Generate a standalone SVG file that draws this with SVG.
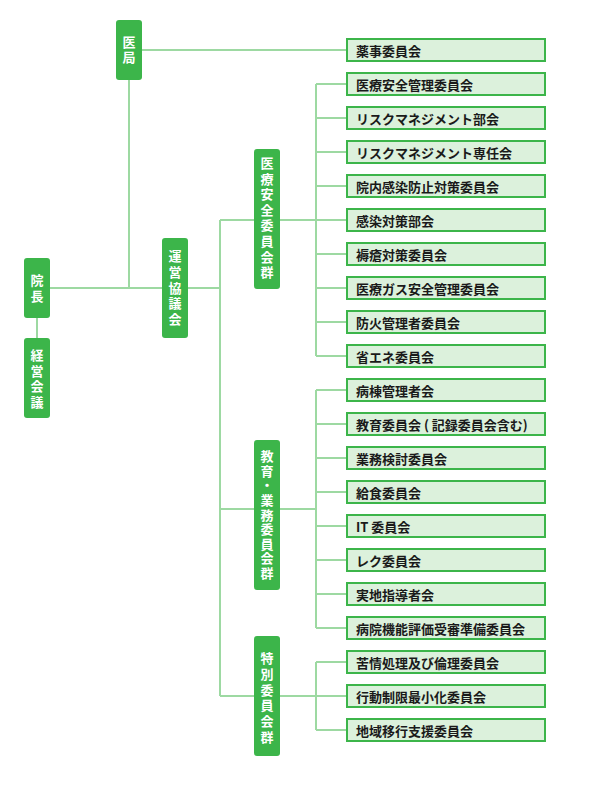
<svg xmlns="http://www.w3.org/2000/svg" width="600" height="800" viewBox="0 0 600 800">
<style>
.n rect{fill:#3cb54a}
.n text{fill:#fff;font-family:"Noto Sans CJK JP","Noto Sans",sans-serif;font-size:13px;font-weight:bold;text-anchor:middle;writing-mode:vertical-rl;text-orientation:upright}
.b rect{fill:#dcf1dc;stroke:#3cb54a;stroke-width:2}
.b text{fill:#1a1a1a;font-family:"Noto Sans CJK JP","Noto Sans",sans-serif;font-size:13px;font-weight:bold;dominant-baseline:central}
#connectors path{fill:none;stroke:#9dd9a2;stroke-width:2}
</style>
<rect width="600" height="800" fill="#fff"/>
<g id="connectors">
<path d="M142 50H346"/>
<path d="M129 80V288"/>
<path d="M37 318V338"/>
<path d="M50 288H162"/>
<path d="M188 288H220"/>
<path d="M220 220V696"/>
<path d="M220 220H254M220 509H254M220 696H254"/>
<path d="M280 220H316M280 509H316M280 696H316"/>
<path d="M316 84V356M316 390V628M316 662V730"/>
<path d="M316 84H346M316 118H346M316 152H346M316 186H346M316 220H346M316 254H346M316 288H346M316 322H346M316 356H346"/>
<path d="M316 390H346M316 424H346M316 458H346M316 492H346M316 526H346M316 560H346M316 594H346M316 628H346"/>
<path d="M316 662H346M316 696H346M316 730H346"/>
</g>
<g id="ikyoku" class="n"><rect x="116" y="20" width="26" height="60" rx="3"/><text x="129" y="50.5" style="letter-spacing:2px">医局</text></g>
<g id="incho" class="n"><rect x="24" y="258" width="26" height="60" rx="3"/><text x="37" y="289.5" style="letter-spacing:3px">院長</text></g>
<g id="keiei" class="n"><rect x="24" y="338" width="26" height="80" rx="3"/><text x="37" y="380" style="letter-spacing:2.7px">経営会議</text></g>
<g id="unei" class="n"><rect x="162" y="238" width="26" height="100" rx="3"/><text x="175" y="289" style="letter-spacing:2.8px">運営協議会</text></g>
<g id="iryoanzen" class="n"><rect x="254" y="149" width="26" height="140" rx="3"/><text x="267" y="219" style="letter-spacing:2.6px">医療安全委員会群</text></g>
<g id="kyoiku" class="n"><rect x="254" y="440" width="26" height="150" rx="3"/><text x="267" y="515.5" style="letter-spacing:1.6px">教育・業務委員会群</text></g>
<g id="tokubetsu" class="n"><rect x="254" y="636" width="26" height="120" rx="3"/><text x="267" y="699" style="letter-spacing:2.8px">特別委員会群</text></g>
<g id="b01" class="b"><rect x="347" y="39" width="198" height="22"/><text x="356" y="50">薬事委員会</text></g>
<g id="b02" class="b"><rect x="347" y="73" width="198" height="22"/><text x="356" y="84">医療安全管理委員会</text></g>
<g id="b03" class="b"><rect x="347" y="107" width="198" height="22"/><text x="356" y="118">リスクマネジメント部会</text></g>
<g id="b04" class="b"><rect x="347" y="141" width="198" height="22"/><text x="356" y="152">リスクマネジメント専任会</text></g>
<g id="b05" class="b"><rect x="347" y="175" width="198" height="22"/><text x="356" y="186">院内感染防止対策委員会</text></g>
<g id="b06" class="b"><rect x="347" y="209" width="198" height="22"/><text x="356" y="220">感染対策部会</text></g>
<g id="b07" class="b"><rect x="347" y="243" width="198" height="22"/><text x="356" y="254">褥瘡対策委員会</text></g>
<g id="b08" class="b"><rect x="347" y="277" width="198" height="22"/><text x="356" y="288">医療ガス安全管理委員会</text></g>
<g id="b09" class="b"><rect x="347" y="311" width="198" height="22"/><text x="356" y="322">防火管理者委員会</text></g>
<g id="b10" class="b"><rect x="347" y="345" width="198" height="22"/><text x="356" y="356">省エネ委員会</text></g>
<g id="b11" class="b"><rect x="347" y="379" width="198" height="22"/><text x="356" y="390">病棟管理者会</text></g>
<g id="b12" class="b"><rect x="347" y="413" width="198" height="22"/><text x="356" y="424">教育委員会 ( 記録委員会含む)</text></g>
<g id="b13" class="b"><rect x="347" y="447" width="198" height="22"/><text x="356" y="458">業務検討委員会</text></g>
<g id="b14" class="b"><rect x="347" y="481" width="198" height="22"/><text x="356" y="492">給食委員会</text></g>
<g id="b15" class="b"><rect x="347" y="515" width="198" height="22"/><text x="356" y="526">IT 委員会</text></g>
<g id="b16" class="b"><rect x="347" y="549" width="198" height="22"/><text x="356" y="560">レク委員会</text></g>
<g id="b17" class="b"><rect x="347" y="583" width="198" height="22"/><text x="356" y="594">実地指導者会</text></g>
<g id="b18" class="b"><rect x="347" y="617" width="198" height="22"/><text x="356" y="628">病院機能評価受審準備委員会</text></g>
<g id="b19" class="b"><rect x="347" y="651" width="198" height="22"/><text x="356" y="662">苦情処理及び倫理委員会</text></g>
<g id="b20" class="b"><rect x="347" y="685" width="198" height="22"/><text x="356" y="696">行動制限最小化委員会</text></g>
<g id="b21" class="b"><rect x="347" y="719" width="198" height="22"/><text x="356" y="730">地域移行支援委員会</text></g>
</svg>
